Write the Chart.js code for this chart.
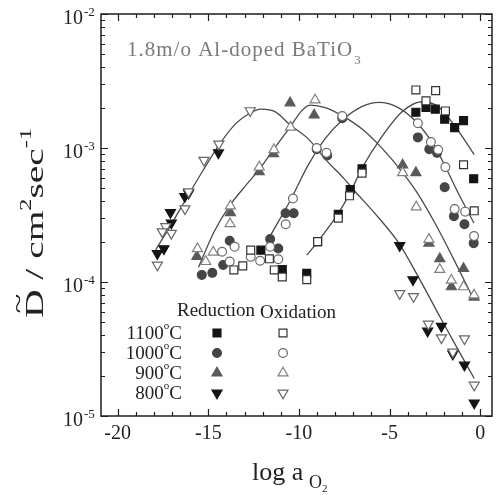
<!DOCTYPE html>
<html>
<head>
<meta charset="utf-8">
<script src="https://cdn.jsdelivr.net/npm/chart.js@4/dist/chart.umd.min.js"></script>
<style>
  html, body { margin: 0; padding: 0; background: #fff; }
</style>
</head>
<body>
<canvas id="chart" width="499" height="495"></canvas>
<script>
// chemical diffusivity D (cm^2/s) vs log a(O2), reduction (filled) and oxidation (open) runs
const red1100X = [-3.55, -2.99, -2.48, -1.96, -1.41, -0.92, -0.36, -6.52, -7.17, -7.83, -8.97, -9.57, -10.92, -12.10];
const red1100Y = [1.85e-3, 2.01e-3, 1.95e-3, 1.64e-3, 1.42e-3, 1.60e-3, 5.9e-4, 7.0e-4, 4.9e-4, 3.2e-4, 2.0e-4, 1.16e-4, 1.24e-4, 1.73e-4];
const ox1100X = [-3.55, -2.46, -2.99, -1.92, -0.92, -0.33, -6.52, -7.21, -7.83, -8.97, -9.57, -13.59, -13.10, -12.66, -11.63, -11.36, -10.92];
const ox1100Y = [2.71e-3, 2.68e-3, 2.25e-3, 1.89e-3, 7.5e-4, 3.4e-4, 6.5e-4, 4.4e-4, 3.0e-4, 2.0e-4, 1.04e-4, 1.23e-4, 1.32e-4, 1.73e-4, 1.49e-4, 1.23e-4, 1.09e-4];

const red1000X = [-3.44, -2.81, -2.38, -1.96, -1.45, -0.87, -0.36, -7.61, -8.44, -9.02, -10.29, -10.74, -11.14, -11.59, -13.82, -14.18, -14.78, -15.36];
const red1000Y = [1.20e-3, 9.8e-4, 9.2e-4, 5.1e-4, 3.1e-4, 2.7e-4, 1.95e-4, 1.67e-3, 8.8e-4, 9.8e-4, 3.26e-4, 3.26e-4, 1.78e-4, 2.09e-4, 2.03e-4, 1.34e-4, 1.17e-4, 1.13e-4];
const ox1000X = [-3.44, -2.72, -2.32, -1.92, -1.41, -0.83, -0.34, -7.61, -9.02, -8.48, -10.33, -10.73, -11.14, -11.59, -12.14, -12.66, -13.55, -13.82, -14.24];
const ox1000Y = [1.53e-3, 1.11e-3, 9.7e-4, 7.2e-4, 3.5e-4, 3.35e-4, 2.2e-4, 1.73e-3, 1.0e-3, 9.2e-4, 4.2e-4, 2.7e-4, 1.48e-4, 1.83e-4, 1.44e-4, 1.54e-4, 1.83e-4, 1.42e-4, 1.68e-4];

const red900X = [-10.49, -9.16, -11.40, -12.19, -13.78, -15.63, -4.28, -3.55, -2.83, -2.23, -1.59, -0.92, -0.34];
const red900Y = [2.17e-3, 1.76e-3, 9.06e-4, 6.65e-4, 3.29e-4, 1.55e-4, 7.46e-4, 6.54e-4, 1.95e-4, 1.49e-4, 9.2e-5, 1.26e-4, 7.7e-5];
const ox900X = [-9.11, -10.47, -11.38, -12.19, -13.78, -13.80, -14.73, -15.14, -15.60, -4.28, -3.53, -2.83, -2.23, -1.59, -0.92, -0.34];
const ox900Y = [2.28e-3, 1.43e-3, 9.7e-4, 7.2e-4, 3.69e-4, 2.72e-4, 1.67e-4, 1.42e-4, 1.77e-4, 6.54e-4, 3.63e-4, 2.08e-4, 1.24e-4, 1.03e-4, 9.2e-5, 8.0e-5];

const red800X = [-14.44, -16.09, -16.30, -17.09, -17.04, -17.45, -17.81, -4.44, -3.71, -2.90, -2.14, -1.51, -0.87, -0.33];
const red800Y = [9.2e-4, 4.6e-4, 4.35e-4, 3.3e-4, 2.76e-4, 1.77e-4, 1.63e-4, 1.87e-4, 1.04e-4, 4.3e-5, 4.67e-5, 2.9e-5, 2.4e-5, 1.25e-5];
const ox800X = [-12.69, -14.42, -15.24, -16.09, -16.29, -17.35, -17.54, -17.04, -17.81, -4.44, -3.68, -2.86, -2.14, -1.51, -0.87, -0.33];
const ox800Y = [1.90e-3, 1.07e-3, 8.1e-4, 4.72e-4, 3.52e-4, 2.59e-4, 2.37e-4, 2.31e-4, 1.34e-4, 8.2e-5, 7.8e-5, 4.86e-5, 3.84e-5, 3.0e-5, 3.77e-5, 1.70e-5];

// fitted curves
const fit800X = [-17.9, -17.0, -16.27, -15.3, -14.37, -13.5, -12.83, -12.1, -11.3, -10.47, -9.5, -8.5, -7.5, -7.0, -5.8, -4.49, -3.3, -2.14, -1.2, -0.33];
const fit800Y = [1.738e-4, 2.754e-4, 4.074e-4, 6.761e-4, 1.072e-3, 1.514e-3, 1.778e-3, 1.950e-3, 1.862e-3, 1.479e-3, 1.175e-3, 8.128e-4, 5.888e-4, 4.898e-4, 3.236e-4, 1.950e-4, 1.023e-4, 5.248e-5, 3.090e-5, 1.905e-5];
const fit900X = [-15.54, -14.7, -13.82, -13.0, -12.19, -11.29, -10.47, -9.9, -9.4, -8.5, -7.6, -6.5, -5.5, -4.3, -3.5, -2.5, -1.5, -0.43];
const fit900Y = [1.288e-4, 2.344e-4, 3.715e-4, 5.129e-4, 6.918e-4, 1.023e-3, 1.445e-3, 1.862e-3, 2.089e-3, 1.995e-3, 1.738e-3, 1.380e-3, 1.023e-3, 6.607e-4, 4.677e-4, 2.754e-4, 1.514e-4, 7.762e-5];
const fit1000X = [-11.56, -10.47, -9.5, -8.5, -7.5, -6.5, -5.6, -4.5, -3.5, -2.5, -1.92, -1.2, -0.35];
const fit1000Y = [2.239e-4, 4.074e-4, 7.413e-4, 1.202e-3, 1.660e-3, 2.042e-3, 2.188e-3, 1.995e-3, 1.549e-3, 1.023e-3, 7.244e-4, 4.571e-4, 2.754e-4];
const fit1100X = [-9.57, -8.97, -7.84, -7.24, -6.48, -5.5, -4.31, -3.22, -2.32, -1.6, -0.96, -0.33];
const fit1100Y = [1.585e-4, 1.995e-4, 3.236e-4, 4.467e-4, 7.244e-4, 1.175e-3, 1.862e-3, 2.213e-3, 2.042e-3, 1.585e-3, 1.202e-3, 8.913e-4];

const xTickLabels = ['-20', '-15', '-10', '-5', '0'];
const xTickValues = [-20, -15, -10, -5, 0];
const yDecades = [1e-5, 1e-4, 1e-3, 1e-2];
const yDecadeExp = ['-5', '-4', '-3', '-2'];
const tempLabels = ['1100', '1000', '900', '800'];

const serif = '"Liberation Serif", "DejaVu Serif", serif';
const ink = '#222222';

const styles = [
  { shape: 'rect', r: 5.6, fill: '#141414', open: '#333333' },
  { shape: 'circle', r: 4.4, fill: '#454545', open: '#6a6a6a' },
  { shape: 'triangle', r: 5.8, fill: '#5a5a5a', open: '#808080' },
  { shape: 'triangleDown', r: 5.8, fill: '#141414', open: '#666666' }
];

function pts(xs, ys) {
  return xs.map((v, i) => ({ x: v, y: ys[i] }));
}

function markerSet(xs, ys, st, filled) {
  return {
    data: pts(xs, ys),
    showLine: false,
    pointStyle: st.shape === 'triangleDown' ? 'triangle' : st.shape,
    pointRotation: st.shape === 'triangleDown' ? 180 : 0,
    pointRadius: st.r,
    pointBackgroundColor: filled ? st.fill : '#ffffff',
    pointBorderColor: filled ? st.fill : st.open,
    pointBorderWidth: 1.2,
    order: filled ? 2 : 1
  };
}

function fitLine(xs, ys) {
  return {
    data: pts(xs, ys),
    showLine: true,
    pointRadius: 0,
    borderColor: '#4a4a4a',
    borderWidth: 1.3,
    cubicInterpolationMode: 'monotone',
    order: 10
  };
}

function drawMarker(ctx, st, filled, x, y) {
  const r = st.r;
  ctx.beginPath();
  if (st.shape === 'rect') {
    const s = r * Math.SQRT1_2;
    ctx.rect(x - s, y - s, 2 * s, 2 * s);
  } else if (st.shape === 'circle') {
    ctx.arc(x, y, r, 0, Math.PI * 2);
  } else {
    const d = st.shape === 'triangle' ? 1 : -1;
    const w = r * Math.sin(Math.PI / 3);
    ctx.moveTo(x, y - d * r);
    ctx.lineTo(x + w, y + d * r / 2);
    ctx.lineTo(x - w, y + d * r / 2);
    ctx.closePath();
  }
  ctx.fillStyle = filled ? st.fill : '#ffffff';
  ctx.fill();
  ctx.lineWidth = 1.2;
  ctx.strokeStyle = filled ? st.fill : st.open;
  ctx.stroke();
}

const decor = {
  id: 'decor',
  afterDraw(chart) {
    const { ctx, chartArea: a, scales: { x, y } } = chart;
    ctx.save();

    // frame with inward ticks on all four sides
    ctx.strokeStyle = '#1e1e1e';
    ctx.lineWidth = 1.5;
    ctx.strokeRect(a.left, a.top, a.right - a.left, a.bottom - a.top);
    ctx.lineWidth = 1.2;
    ctx.beginPath();
    for (let v = Math.ceil(x.min); v <= x.max; v++) {
      const px = Math.round(x.getPixelForValue(v)) + 0.5;
      const len = v % 5 === 0 ? 7 : 4;
      ctx.moveTo(px, a.bottom); ctx.lineTo(px, a.bottom - len);
      ctx.moveTo(px, a.top); ctx.lineTo(px, a.top + len);
    }
    yDecades.forEach((d, i) => {
      for (let m = 1; m <= 9; m++) {
        const val = d * m;
        if (m > 1 && i === yDecades.length - 1) continue;
        const py = Math.round(y.getPixelForValue(val)) + 0.5;
        const len = m === 1 ? 7 : 4;
        ctx.moveTo(a.left, py); ctx.lineTo(a.left + len, py);
        ctx.moveTo(a.right, py); ctx.lineTo(a.right - len, py);
      }
    });
    ctx.stroke();

    // x tick labels
    ctx.fillStyle = ink;
    ctx.font = '20px ' + serif;
    ctx.textAlign = 'center';
    ctx.textBaseline = 'alphabetic';
    xTickValues.forEach((v, i) => {
      ctx.fillText(xTickLabels[i], x.getPixelForValue(v), a.bottom + 23);
    });

    // y tick labels as powers of ten
    yDecades.forEach((d, i) => {
      const py = y.getPixelForValue(d);
      ctx.font = '20px ' + serif;
      ctx.textAlign = 'right';
      ctx.fillText('10', 83, py + 10);
      ctx.font = '13px ' + serif;
      ctx.textAlign = 'left';
      ctx.fillText(yDecadeExp[i], 84, py + 2);
    });

    // x axis title: log a_O2
    ctx.textAlign = 'left';
    ctx.font = '26px ' + serif;
    ctx.fillText('log a', 252, 480);
    ctx.font = '18px ' + serif;
    ctx.fillText('O', 309, 488);
    ctx.font = '11px ' + serif;
    ctx.fillText('2', 322, 492);

    // y axis title: D~ / cm^2 sec^-1, rotated and stretched along the axis
    ctx.save();
    ctx.translate(43, 318);
    ctx.rotate(-Math.PI / 2);
    const big = '26px ' + serif, small = '16px ' + serif;
    const parts = [
      { t: 'D', f: big, dy: 0 },
      { t: ' / cm', f: big, dy: 0 },
      { t: '2', f: small, dy: -12 },
      { t: 'sec', f: big, dy: 0 },
      { t: '-1', f: small, dy: -12 }
    ];
    let total = 0;
    parts.forEach(p => { ctx.font = p.f; total += ctx.measureText(p.t).width; });
    ctx.scale(190 / total, 1);
    let cx = 0;
    parts.forEach((p, k) => {
      ctx.font = p.f;
      ctx.fillText(p.t, cx, p.dy);
      const w = ctx.measureText(p.t).width;
      if (k === 0) {
        ctx.font = '24px ' + serif;
        ctx.textAlign = 'center';
        ctx.fillText('~', cx + w / 2, -17);
        ctx.textAlign = 'left';
      }
      cx += w;
    });
    ctx.restore();

    // sample label
    ctx.fillStyle = '#7a7a7a';
    ctx.font = '21px ' + serif;
    ctx.letterSpacing = '1px';
    ctx.fillText('1.8m/o Al-doped BaTiO', 127, 56);
    const tw = ctx.measureText('1.8m/o Al-doped BaTiO').width;
    ctx.font = '13px ' + serif;
    ctx.fillText('3', 127 + tw + 1, 64);
    ctx.letterSpacing = '0px';

    // legend: two marker columns
    ctx.fillStyle = ink;
    ctx.font = '19px ' + serif;
    ctx.fillText('Reduction', 177, 316);
    ctx.fillText('Oxidation', 260, 318);
    const rowsY = [333, 353, 373, 393];
    tempLabels.forEach((t, i) => {
      const ry = rowsY[i];
      ctx.fillStyle = ink;
      ctx.font = '19px ' + serif;
      const wC = ctx.measureText('C').width;
      const wT = ctx.measureText(t).width;
      ctx.font = '11px ' + serif;
      const wO = ctx.measureText('o').width;
      const x0 = 182 - wC - wO - wT;
      ctx.font = '19px ' + serif;
      ctx.fillText(t, x0, ry + 6);
      ctx.font = '11px ' + serif;
      ctx.fillText('o', x0 + wT, ry - 4);
      ctx.font = '19px ' + serif;
      ctx.fillText('C', x0 + wT + wO, ry + 6);
      drawMarker(ctx, styles[i], true, 217, ry);
      drawMarker(ctx, styles[i], false, 283, ry);
    });

    ctx.restore();
  }
};

new Chart(document.getElementById('chart'), {
  type: 'scatter',
  data: {
    datasets: [
      fitLine(fit800X, fit800Y),
      fitLine(fit900X, fit900Y),
      fitLine(fit1000X, fit1000Y),
      fitLine(fit1100X, fit1100Y),
      markerSet(red1100X, red1100Y, styles[0], true),
      markerSet(ox1100X, ox1100Y, styles[0], false),
      markerSet(red1000X, red1000Y, styles[1], true),
      markerSet(ox1000X, ox1000Y, styles[1], false),
      markerSet(red900X, red900Y, styles[2], true),
      markerSet(ox900X, ox900Y, styles[2], false),
      markerSet(red800X, red800Y, styles[3], true),
      markerSet(ox800X, ox800Y, styles[3], false)
    ]
  },
  options: {
    responsive: false,
    animation: false,
    devicePixelRatio: 1,
    layout: { padding: { left: 101, right: 1, top: 14, bottom: 79 } },
    plugins: { legend: { display: false }, tooltip: { enabled: false } },
    scales: {
      x: { type: 'linear', min: -20.92, max: 0.65, display: false },
      y: { type: 'logarithmic', min: 1e-5, max: 1e-2, display: false }
    }
  },
  plugins: [decor]
});
</script>
</body>
</html>
